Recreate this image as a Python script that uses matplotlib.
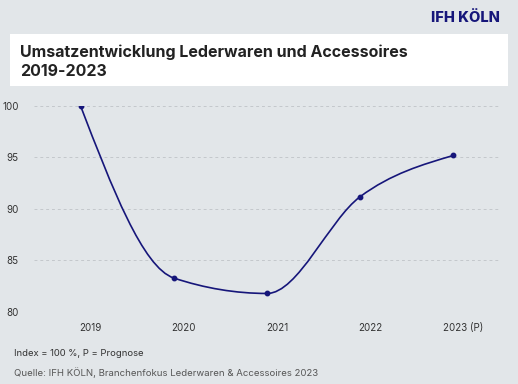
import matplotlib.pyplot as plt
import matplotlib.transforms as mtransforms
from matplotlib.path import Path
from matplotlib.patches import PathPatch, Rectangle

# data
years = ["2019", "2020", "2021", "2022", "2023 (P)"]
index_values = [100.0, 83.3, 81.8, 91.2, 95.2]
y_ticks = [80, 85, 90, 95, 100]

bg = "#e2e6e9"
navy = "#16167a"

fig = plt.figure(figsize=(5.18, 3.84), dpi=100, facecolor=bg)

# white title box
fig.patches.append(Rectangle((10 / 518, 1 - 86 / 384), 498 / 518, 52 / 384,
                             transform=fig.transFigure, facecolor="white",
                             edgecolor="none", zorder=0))
fig.text(20 / 518, 1 - 52 / 384, "Umsatzentwicklung Lederwaren und Accessoires",
         fontsize=11.5, fontweight="bold", color="#222222", family="Inter", va="center")
fig.text(20 / 518, 1 - 72 / 384, "2019-2023",
         fontsize=11.5, fontweight="bold", color="#222222", family="Inter", va="center")
fig.text(500 / 518, 1 - 18 / 384, "IFH KÖLN", fontsize=10.5, fontweight="heavy",
         color=navy, family="Inter", ha="right", va="center")

ax = fig.add_axes([34 / 518, 72 / 384, 466 / 518, 206 / 384])
ax.set_facecolor(bg)
xs = list(range(len(years)))

# monotone cubic smoothing between the points
n = len(xs)
slopes = [(index_values[i + 1] - index_values[i]) / (xs[i + 1] - xs[i]) for i in range(n - 1)]
tang = [0.0] * n
for i in range(1, n - 1):
    s0, s1 = slopes[i - 1], slopes[i]
    if s0 * s1 <= 0:
        tang[i] = 0.0
    else:
        sign = 1 if s0 > 0 else -1
        tang[i] = 2 * sign * min(abs(s0), abs(s1), 0.5 * abs((s0 + s1) / 2))
tang[0] = (3 * slopes[0] - tang[1]) / 2
tang[-1] = (3 * slopes[-1] - tang[-2]) / 2

verts = [(xs[0], index_values[0])]
codes = [Path.MOVETO]
for i in range(n - 1):
    h = (xs[i + 1] - xs[i]) / 3
    verts += [(xs[i] + h, index_values[i] + tang[i] * h),
              (xs[i + 1] - h, index_values[i + 1] - tang[i + 1] * h),
              (xs[i + 1], index_values[i + 1])]
    codes += [Path.CURVE4] * 3
ax.add_patch(PathPatch(Path(verts, codes), facecolor="none", edgecolor=navy,
                       lw=1.2, zorder=3))
ax.plot(xs, index_values, "o", color=navy, markersize=3.2, zorder=4)

ax.set_xlim(-0.5, 4.5)
ax.set_ylim(80, 100)
ax.set_yticks(y_ticks)
ax.set_xticks(xs)
ax.set_xticklabels(years)
ax.grid(axis="y", color="#c4c8cc", linestyle=(0, (3, 3)), lw=0.7)
ax.set_axisbelow(True)
for s in ax.spines.values():
    s.set_visible(False)
ax.tick_params(length=0, labelsize=7, colors="#333333", pad=8)
ax.tick_params(axis="y", pad=11)
shift = mtransforms.ScaledTranslation(10 / 100, 0, fig.dpi_scale_trans)
for lab in ax.get_xticklabels():
    lab.set_transform(lab.get_transform() + shift)
for lab in ax.get_xticklabels() + ax.get_yticklabels():
    lab.set_family("Inter")

fig.text(14 / 518, 1 - 353 / 384, "Index = 100 %, P = Prognose", fontsize=6.8,
         color="#333333", family="Inter", va="center")
fig.text(14 / 518, 1 - 373 / 384, "Quelle: IFH KÖLN, Branchenfokus Lederwaren & Accessoires 2023",
         fontsize=6.9, color="#555555", family="Inter", va="center")

fig.savefig("out.png", dpi=100, facecolor=bg)
